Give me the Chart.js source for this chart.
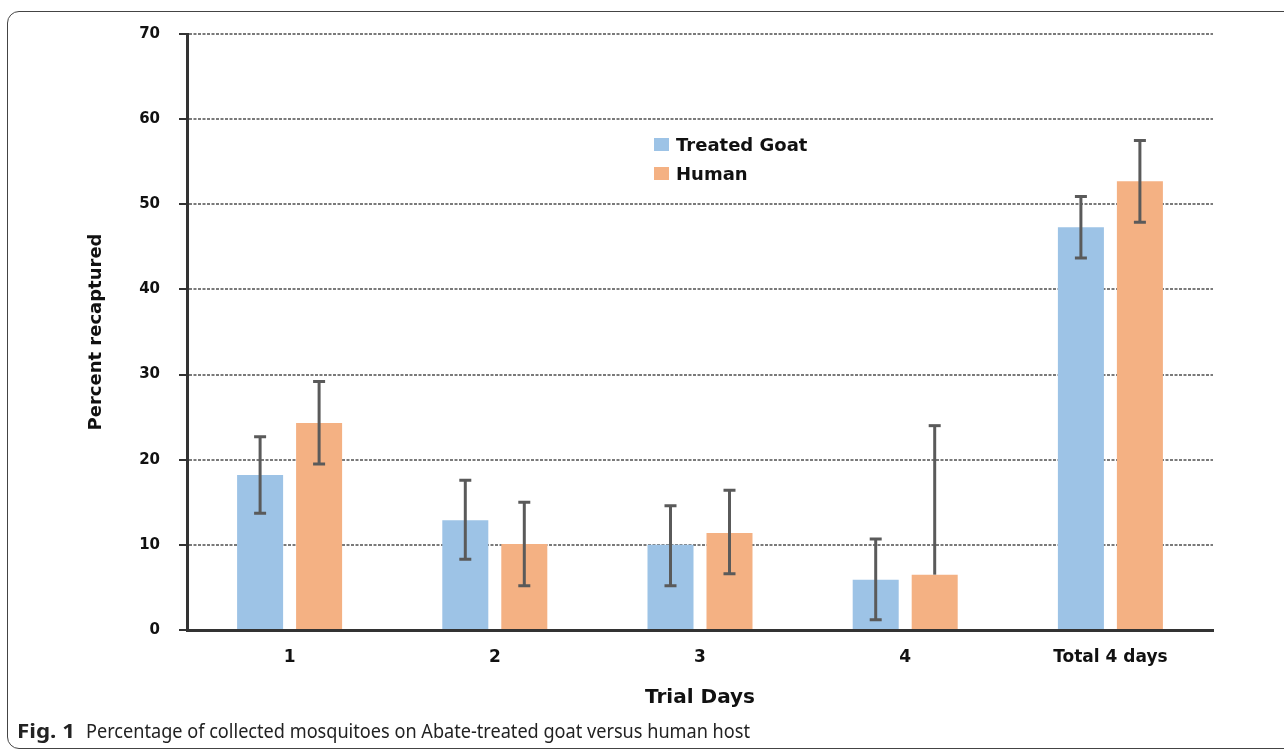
<!DOCTYPE html>
<html>
<head>
<meta charset="utf-8">
<script src="https://cdn.jsdelivr.net/npm/chart.js@4.4.1/dist/chart.umd.min.js"></script>
<style>
  html, body { margin: 0; padding: 0; background: #fff; width: 1284px; height: 753px; overflow: hidden; }
  #wrap { position: absolute; left: 0; top: 0; width: 1284px; height: 753px; }
  #frame { position: absolute; left: 7px; top: 11px; width: 1300px; height: 738px; border: 1.5px solid #444; border-radius: 12px; box-sizing: border-box; pointer-events: none; }
  #legend { position: absolute; left: 654px; top: 130px; font-family: "DejaVu Sans", sans-serif; font-weight: bold; font-size: 18px; color: #111; }
  .li { display: flex; align-items: center; height: 29px; }
  .sw { width: 15px; height: 13px; margin-right: 7px; }
  .cap { position: absolute; top: 718px; font-family: "Noto Sans", sans-serif; font-size: 19px; color: #222; white-space: nowrap; transform-origin: left center; }
  #capfig { left: 17px; font-weight: bold; }
  #captext { left: 86px; }
</style>
</head>
<body>
<div id="wrap"><canvas id="c" width="1284" height="753"></canvas></div>
<div id="frame"></div>
<div id="legend"></div>
<div id="capfig" class="cap">Fig. 1</div>
<div id="captext" class="cap">Percentage of collected mosquitoes on Abate-treated goat versus human host</div>
<script>
const categories = ["1", "2", "3", "4", "Total 4 days"];
const goatValues = [18.2, 12.9, 10.0, 5.9, 47.3];
const goatErrPlus = [4.5, 4.7, 4.6, 4.8, 3.6];
const goatErrMinus = [4.5, 4.6, 4.8, 4.7, 3.6];
const humanValues = [24.3, 10.1, 11.4, 6.5, 52.7];
const humanErrPlus = [4.9, 4.9, 5.0, 17.5, 4.8];
const humanErrMinus = [4.8, 4.9, 4.8, 0, 4.8];
const yTicks = [0, 10, 20, 30, 40, 50, 60, 70];
const seriesNames = ["Treated Goat", "Human"];
const seriesColors = ["#9DC3E6", "#F4B183"];

const errorBars = {
  id: 'errorBars',
  afterDatasetsDraw(chart) {
    const ctx = chart.ctx;
    const y = chart.scales.y;
    ctx.save();
    ctx.strokeStyle = '#5a5a5a';
    ctx.lineWidth = 3;
    ctx.lineCap = 'butt';
    chart.data.datasets.forEach((ds, di) => {
      const meta = chart.getDatasetMeta(di);
      meta.data.forEach((bar, i) => {
        const v = ds.data[i];
        const top = y.getPixelForValue(v + ds.errPlus[i]);
        const bot = y.getPixelForValue(v - ds.errMinus[i]);
        const x = bar.x;
        ctx.beginPath();
        ctx.moveTo(x, top); ctx.lineTo(x, bot);
        ctx.stroke();
        ctx.beginPath();
        ctx.moveTo(x - 6, top); ctx.lineTo(x + 6, top);
        if (ds.errMinus[i] > 0) { ctx.moveTo(x - 6, bot); ctx.lineTo(x + 6, bot); }
        ctx.stroke();
      });
    });
    ctx.restore();
  }
};

const chart = new Chart(document.getElementById('c'), {
  type: 'bar',
  data: {
    labels: categories,
    datasets: [
      { label: seriesNames[0], data: goatValues, errPlus: goatErrPlus, errMinus: goatErrMinus, backgroundColor: seriesColors[0], borderWidth: 0 },
      { label: seriesNames[1], data: humanValues, errPlus: humanErrPlus, errMinus: humanErrMinus, backgroundColor: seriesColors[1], borderWidth: 0 }
    ]
  },
  options: {
    responsive: false,
    animation: false,
    devicePixelRatio: 1,
    categoryPercentage: 0.575,
    barPercentage: 0.78,
    layout: { padding: { left: 86, right: 71, top: 34, bottom: 38 } },
    plugins: { legend: { display: false }, tooltip: { enabled: false } },
    scales: {
      x: {
        afterFit(s) { s.height = 85; },
        grid: { display: false, drawTicks: false },
        border: { display: true, color: '#333', width: 3 },
        ticks: { padding: 17, color: '#111', font: { family: 'DejaVu Sans', weight: 'bold', size: 17 } },
        title: { display: true, text: 'Trial Days', color: '#111', padding: { top: 0, bottom: 5 }, font: { family: 'DejaVu Sans', weight: 'bold', size: 20 } }
      },
      y: {
        min: 0, max: 70,
        afterFit(s) { s.width = 101; },
        afterBuildTicks(s) { s.ticks = yTicks.map(v => ({ value: v })); },
        grid: { color: '#7a7a7a', lineWidth: 2, drawTicks: true, tickLength: 8, tickColor: '#333', tickWidth: 2, tickBorderDash: [] },
        border: { display: true, color: '#333', width: 3, dash: [3, 1.5] },
        ticks: { padding: 19, color: '#111', font: { family: 'DejaVu Sans', weight: 'bold', size: 15 } },
        title: { display: true, text: 'Percent recaptured', color: '#111', padding: { top: 0, bottom: 0 }, font: { family: 'DejaVu Sans', weight: 'bold', size: 18 } }
      }
    }
  },
  plugins: [errorBars]
});

// HTML legend built from the chart's datasets
const lg = document.getElementById('legend');
chart.data.datasets.forEach(ds => {
  const row = document.createElement('div'); row.className = 'li';
  const sw = document.createElement('div'); sw.className = 'sw'; sw.style.background = ds.backgroundColor;
  const t = document.createElement('span'); t.textContent = ds.label;
  row.appendChild(sw); row.appendChild(t); lg.appendChild(row);
});

// fit caption pieces to reference widths
function fitW(id, target) {
  const el = document.getElementById(id);
  const w = el.getBoundingClientRect().width;
  el.style.transform = 'scaleX(' + (target / w) + ')';
}
fitW('capfig', 58);
fitW('captext', 664);
</script>
</body>
</html>
